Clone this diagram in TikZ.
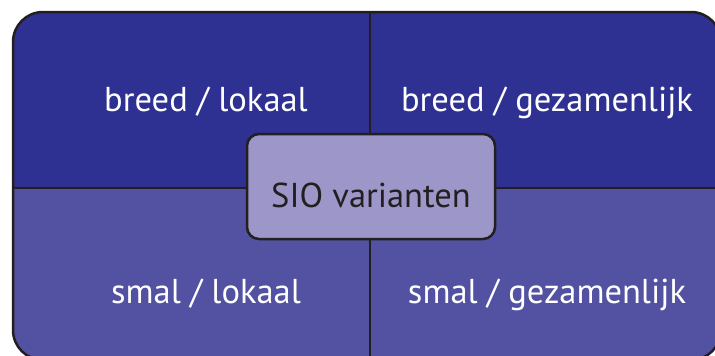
\documentclass[tikz,border=0pt]{standalone}
\usepackage{fontspec}
\setmainfont{PT Sans}
\definecolor{breedblue}{HTML}{2E3192}
\definecolor{smalblue}{HTML}{5351A1}
\definecolor{siolilac}{HTML}{9D97C9}
\definecolor{inkline}{HTML}{231F20}
\begin{document}
\begin{tikzpicture}[x=1pt,y=-1pt]
	\tikzstyle{every node}+=[inner sep=0pt]
	\tikzstyle{cell}=[anchor=base,text=white,font=\fontsize{34.5}{40}\selectfont]
	\tikzstyle{rim}=[draw=inkline,line width=2.5pt]
	\clip (0,0) rectangle (715,356);
	\begin{scope}
		\clip [rounded corners=30pt] (13,12) rectangle (721,360);
		\fill [breedblue] (13,12) rectangle (721,188);
		\fill [smalblue] (13,188) rectangle (721,360);
	\end{scope}
	\draw [rim] (13,188) -- (721,188);
	\draw [rim] (370,12) -- (370,360);
	\draw [rim,rounded corners=30pt] (13,12) rectangle (721,360);
	\node [cell] (breedlokaal) at (206,111) {breed / lokaal};
	\node [cell] (breedgezamenlijk) at (547,111) {breed / gezamenlijk};
	\node [cell] (smallokaal) at (206,303) {smal / lokaal};
	\node [cell] (smalgezamenlijk) at (547,303) {smal / gezamenlijk};
	\node [rim,fill=siolilac,rounded corners=12pt,minimum width=248pt,minimum height=105pt,
		text=inkline,text height=41pt,text depth=0pt,font=\fontsize{34.5}{40}\selectfont] (sio) at (371,186.5) {SIO varianten};
\end{tikzpicture}
\end{document}
